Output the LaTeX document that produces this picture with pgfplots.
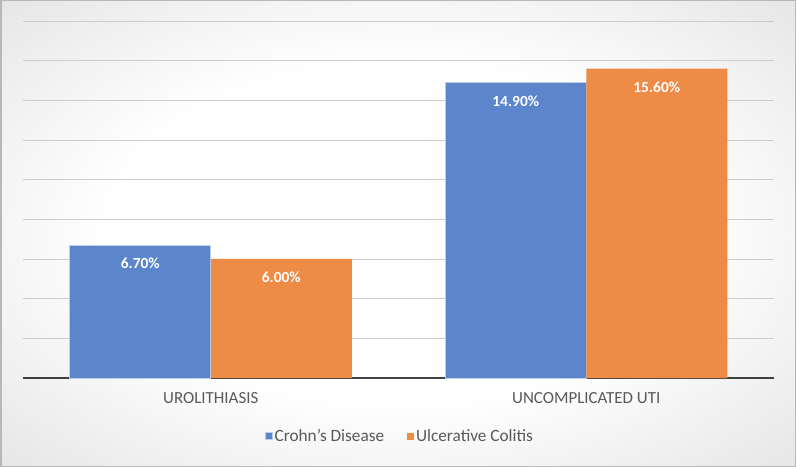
\documentclass[border=0pt]{standalone}
\usepackage{fontspec}
\setmainfont{Carlito}
\usepackage{pgfplots}
\pgfplotsset{compat=1.18}
\definecolor{cdblue}{HTML}{5B86CC}
\definecolor{ucorange}{HTML}{EE8B47}
\definecolor{txtgray}{HTML}{595959}
\pgfdeclareradialshading{bgshade}{\pgfpoint{0bp}{0bp}}{color(0bp)=(white); color(18bp)=(white); color(50bp)=(black!18); color(71bp)=(black!25)}
\begin{document}
\begin{tikzpicture}
\shade[shading=bgshade] (0,0) rectangle (796bp,467bp);
\draw[black!28, line width=1.5bp] (0.75bp,0.75bp) rectangle (795.25bp,466.25bp);
\begin{axis}[
  at={(23bp,89bp)}, anchor=south west,
  scale only axis, width=751bp, height=357bp,
  xmin=-0.5, xmax=1.5, ymin=0, ymax=18,
  ybar=0pt, bar width=141bp,
  axis line style={draw=none},
  xtick={0,1}, xticklabels={UROLITHIASIS, UNCOMPLICATED UTI},
  ytick={2,4,...,18}, yticklabels={},
  extra y ticks={0}, extra y tick labels={},
  extra y tick style={grid style={black!75, line width=1.6bp}},
  major tick length=0pt,
  ymajorgrids, grid style={black!20, line width=0.9bp},
  xticklabel style={font=\fontsize{17}{20}\selectfont, text=txtgray, anchor=center, yshift=-20bp},
  nodes near coords={\pgfmathprintnumber[fixed,fixed zerofill,precision=2,assume math mode=true]{\pgfplotspointmeta}\%},
  every node near coord/.append style={font=\bfseries\fontsize{15.5}{18}\selectfont, text=white, anchor=center, yshift=-18.5bp},
  legend columns=2,
  legend style={at={(0.502,-0.1625)}, anchor=center, draw=none, fill=none, font=\fontsize{17.3}{20}\selectfont, text=txtgray, /tikz/every even column/.append style={column sep=21bp}},
  legend image code/.code={\fill[#1] (0bp,-3.5bp) rectangle (7bp,3.5bp);},
  clip=false,
]
\addplot[fill=cdblue, draw=white!60!cdblue, line width=0.6bp] coordinates {(0,6.7) (1,14.9)};
\addplot[fill=ucorange, draw=none] coordinates {(0,6.0) (1,15.6)};
\legend{Crohn's Disease, Ulcerative Colitis}
\end{axis}
\end{tikzpicture}
\end{document}
